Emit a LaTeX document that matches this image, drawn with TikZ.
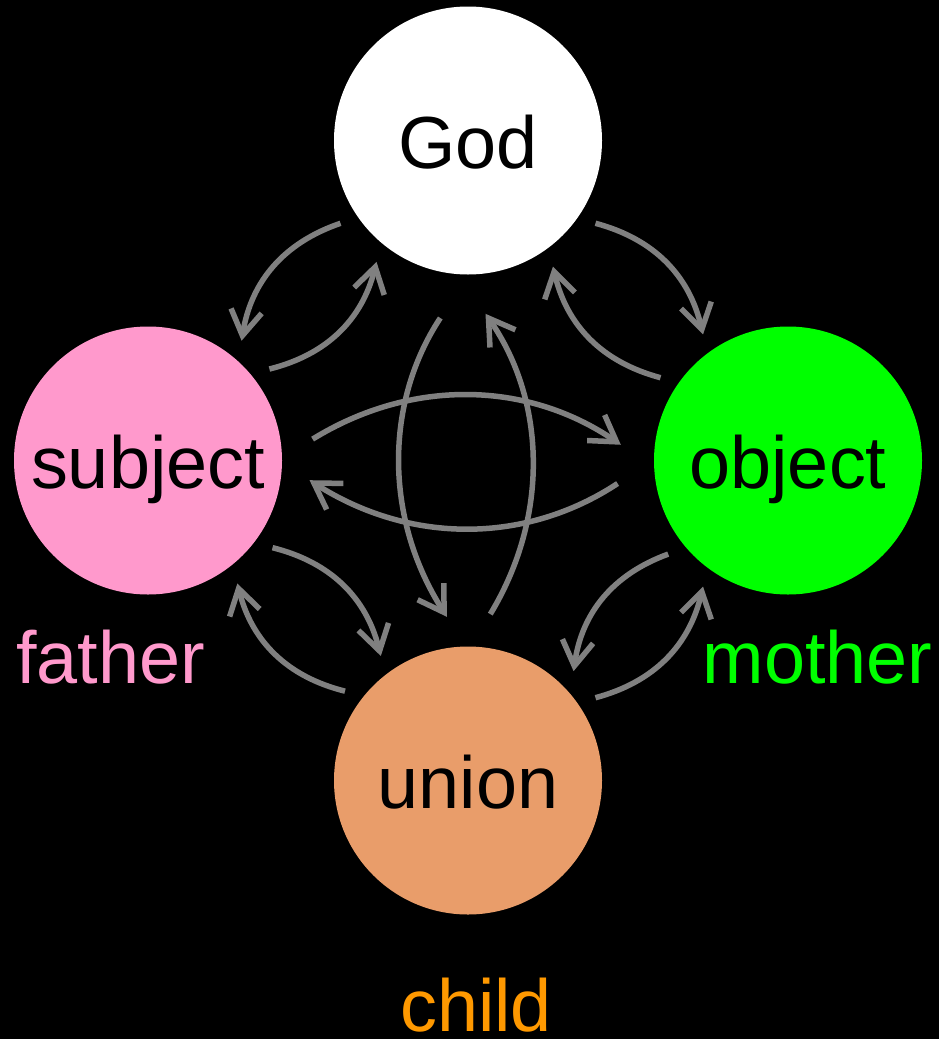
\documentclass[tikz,border=0pt]{standalone}
\usepackage{fontspec}
\setmainfont{Liberation Sans}
\usetikzlibrary{arrows.meta}
\definecolor{fatherpink}{RGB}{255,153,204}
\definecolor{mothergreen}{RGB}{0,255,0}
\definecolor{uniontan}{RGB}{233,157,106}
\definecolor{childorange}{RGB}{255,153,0}
\definecolor{linkgray}{RGB}{128,128,128}

\begin{document}
\begin{tikzpicture}[
          every node/.style={font=\fontsize{42}{48}\selectfont},
          person/.style={circle, minimum size=5.36cm, inner sep=0pt, outer sep=0.36cm,
                         text height=1.1cm, text depth=0pt},
          role/.style={anchor=base},
          arr/.style={-{Straight Barb[length=0.5cm, width=0.62cm]}, line width=0.11cm, linkgray},
        ]
          \fill[black] (0,0) rectangle (18.78,-20.78);
          \useasboundingbox (0,0) rectangle (18.78,-20.78);

          \node[person, fill=white]       (god)   at (9.36,-2.81)  {God};
          \node[person, fill=fatherpink]  (subj)  at (2.96,-9.21)  {subject};
          \node[person, fill=mothergreen] (obj)   at (15.76,-9.21) {object};
          \node[person, fill=uniontan]    (union) at (9.36,-15.61) {union};

          \node[role, text=fatherpink]  (father) at (2.21,-13.66)  {father};
          \node[role, text=mothergreen] (mother) at (16.35,-13.66) {mother};
          \node[role, text=childorange] (child)  at (9.52,-20.62)  {child};

          % outer pairs
          \draw[arr] (god.213) to[bend right=31] (subj.52);
          \draw[arr] (subj.37) to[bend right=31] (god.233);
          \draw[arr] (god.327) to[bend left=31] (obj.124);
          \draw[arr] (obj.147) to[bend left=31] (god.304);
          \draw[arr] (subj.325) to[bend left=31] (union.125);
          \draw[arr] (union.144) to[bend left=31] (subj.306);
          \draw[arr] (obj.218) to[bend right=31] (union.46);
          \draw[arr] (union.33) to[bend right=31] (obj.236);

          % crossing pairs
          \draw[arr, shorten <=0.31cm, shorten >=0.37cm] (subj.5) to[bend left=33] (obj.178);
          \draw[arr, shorten <=0.45cm, shorten >=0.24cm] (obj.184) to[bend left=33] (subj.355);
          \draw[arr, shorten <=0.62cm, shorten >=0.29cm] (god.266) to[bend right=33] (union.95);
          \draw[arr, shorten <=0.35cm, shorten >=0.52cm] (union.85) to[bend right=33] (god.271);
        \end{tikzpicture}
\end{document}
